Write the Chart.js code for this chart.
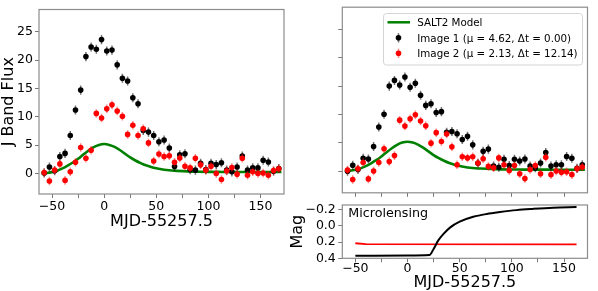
<!DOCTYPE html>
<html><head><meta charset="utf-8">
<script src="https://cdn.jsdelivr.net/npm/chart.js@4.4.1/dist/chart.umd.min.js"></script>
<style>
html,body{margin:0;padding:0;background:#fff;width:598px;height:291px;overflow:hidden;position:relative;}
canvas{position:absolute;}
#cA{left:0;top:0;} #cB{left:285px;top:0;} #cC{left:285px;top:195px;}
</style></head><body>
<canvas id="cA" width="300" height="291"></canvas>
<canvas id="cB" width="313" height="200"></canvas>
<canvas id="cC" width="313" height="96"></canvas>
<script>
// ---------- data ----------
const times = [-57.5,-52.5,-47.5,-42.5,-37.5,-32.5,-27.5,-22.5,-17.5,-12.5,-7.5,-2.5,2.5,7.5,12.5,17.5,22.5,27.5,32.5,37.5,42.5,47.5,52.5,57.5,62.5,67.5,72.5,77.5,82.5,87.5,92.5,97.5,102.5,107.5,112.5,117.5,122.5,127.5,132.5,137.5,142.5,147.5,152.5,157.5,162.5,167.5];
// left panel (observed)
const image1Obs = [0.1,1.15,0.5,3.0,3.55,6.7,11.2,14.7,20.6,22.3,21.9,23.6,21.6,21.75,19.15,16.8,16.3,13.35,12.3,7.6,7.3,6.7,5.6,5.9,4.5,1.25,3.3,3.5,0.7,0.6,1.8,0.7,1.8,1.6,1.9,0.6,0.3,1.15,3.1,0.6,1.0,1.0,2.35,2.05,0.4,0.9];
const image2Obs = [0.2,-1.3,0.6,1.7,-1.2,0.3,2.0,4.6,2.7,4.1,10.6,9.8,11.4,12.1,11.0,10.1,6.9,8.5,6.7,7.9,5.4,2.2,3.45,3.0,3.15,2.0,2.75,1.3,1.0,2.7,1.55,0.6,1.3,0.0,-1.05,0.45,1.05,-0.1,2.7,-0.3,0.3,0.0,0.1,-0.3,0.55,0.85];
// right panel (corrected)
const image1Cor = [0.0,1.05,0.3,2.3,2.15,4.35,7.8,10.05,15.0,16.0,15.2,16.6,14.8,15.5,13.4,11.6,11.9,10.35,10.5,6.85,7.0,6.6,5.6,6.15,4.65,1.4,3.5,3.9,0.9,0.7,2.1,1.0,2.1,1.8,2.15,0.9,0.6,1.45,3.3,0.9,1.15,1.15,2.6,2.3,0.5,1.15];
const image2Cor = [0.2,-1.45,0.45,1.55,-1.35,0.05,1.55,3.95,1.7,2.75,9.0,7.95,9.25,9.95,8.85,8.0,4.95,6.8,5.25,6.55,4.3,1.15,2.55,2.35,2.55,1.45,2.2,0.85,0.6,2.35,1.15,0.15,1.0,-0.45,-1.3,0.3,1.0,-0.45,2.45,-0.6,0.05,-0.2,-0.1,-0.6,0.45,0.75];
const image1Err = 0.8;
const image2Err = 0.75;
// SALT2 model
const modelTimes = [-60,-55,-50,-45,-40,-35,-30,-25,-20,-15,-10,-5,0,5,10,15,20,25,30,35,40,45,50,55,60,65,70,80,90,100,110,120,130,140,150,160,170];
const modelFlux  = [0.05,0.1,0.25,0.5,0.9,1.4,1.95,2.6,3.35,4.05,4.65,5.05,5.2,5.05,4.7,4.15,3.5,2.85,2.3,1.85,1.45,1.15,0.92,0.75,0.62,0.53,0.47,0.38,0.33,0.3,0.29,0.28,0.28,0.27,0.27,0.27,0.27];
// microlensing (mag)
const ml1Times = [-50,0,21,25,29.5,34.5,41,50,63,76,88.5,104.5,120,139.5,162];
const ml1Mag   = [0.37,0.365,0.36,0.285,0.18,0.1,0.02,-0.05,-0.11,-0.145,-0.168,-0.192,-0.207,-0.222,-0.23];
const ml2Times = [-50,-40,162];
const ml2Mag   = [0.215,0.227,0.228];
// ticks
const xTicks = [-50,-25,0,25,50,75,100,125,150];
const xTickLabels = ['\u221250','','0','','50','','100','','150'];
const fluxTicks = [0,5,10,15,20,25];
const fluxTickLabels = ['0','5','10','15','20','25'];
const magTicks = [-0.2,0.0,0.2,0.4];
const magTickLabels = ['\u22120.2','0.0','0.2','0.4'];
const labels = ['SALT2 Model','Image 1 (\u03bc = 4.62, \u0394t = 0.00)','Image 2 (\u03bc = 2.13, \u0394t = 12.14)'];

// ---------- helpers ----------
const FONT = 'DejaVu Sans';
Chart.defaults.font.family = FONT;
Chart.defaults.color = '#000';
const pts = (xs, ys) => xs.map((x,i)=>({x:x, y:ys[i]}));

const errorBars = {
  id:'errorBars',
  beforeDatasetDraw(chart, args){
    const ds = chart.data.datasets[args.index];
    if (ds.errors === undefined) return;
    const xs = chart.scales.x, ys = chart.scales.y, ctx = chart.ctx, a = chart.chartArea;
    ctx.save();
    ctx.beginPath(); ctx.rect(a.left, a.top, a.width, a.height); ctx.clip();
    ctx.beginPath();
    ctx.strokeStyle = ds.errorColor; ctx.lineWidth = 1.5;
    ds.data.forEach(p=>{
      const px = xs.getPixelForValue(p.x);
      ctx.moveTo(px, ys.getPixelForValue(p.y - ds.errors));
      ctx.lineTo(px, ys.getPixelForValue(p.y + ds.errors));
    });
    ctx.stroke(); ctx.restore();
  }
};
const frame = {
  id:'frame',
  afterDraw(chart){
    const {ctx, chartArea:a} = chart;
    ctx.save(); ctx.strokeStyle='#8c8c8c'; ctx.lineWidth=1.2;
    ctx.strokeRect(a.left, a.top, a.width, a.height); ctx.restore();
  }
};
const legendBox = {
  id:'legendBox',
  afterDraw(chart){
    const ctx = chart.ctx, dsets = chart.data.datasets;
    const bx=98.5, by=13.5, bw=199, bh=51.5;
    ctx.save();
    ctx.fillStyle='rgba(255,255,255,0.85)'; ctx.strokeStyle='#d4d4d4'; ctx.lineWidth=1;
    ctx.beginPath(); ctx.roundRect(bx,by,bw,bh,3); ctx.fill(); ctx.stroke();
    const order = [2,1,0];
    const rows = [22.3,37.8,53.3];
    ctx.font = '10.3px "DejaVu Sans"'; ctx.textBaseline='alphabetic'; ctx.fillStyle='#000';
    order.forEach((di,r)=>{
      const d = dsets[di], cy = rows[r];
      if (d.showLine){
        ctx.strokeStyle=d.borderColor; ctx.lineWidth=2.5;
        ctx.beginPath(); ctx.moveTo(102.5,cy); ctx.lineTo(125,cy); ctx.stroke();
      } else {
        ctx.strokeStyle=d.errorColor; ctx.lineWidth=1.5;
        ctx.beginPath(); ctx.moveTo(113.5,cy-4.7); ctx.lineTo(113.5,cy+4.7); ctx.stroke();
        ctx.fillStyle=d.backgroundColor; ctx.beginPath(); ctx.arc(113.5,cy,2.8,0,Math.PI*2); ctx.fill();
      }
      ctx.fillStyle='#000';
      ctx.fillText(d.label, 132.3, cy+4);
    });
    ctx.restore();
  }
};
const mlText = {
  id:'mlText',
  afterDraw(chart){
    const ctx = chart.ctx;
    ctx.save(); ctx.font='12.7px "DejaVu Sans"'; ctx.fillStyle='#000'; ctx.textBaseline='alphabetic';
    ctx.fillText('Microlensing', chart.chartArea.left+6, chart.chartArea.top+11.6); ctx.restore();
  }
};

function fluxDatasets(blk, red){
  return [
    {label:labels[2], data:pts(times, red), backgroundColor:'#ff0000', borderColor:'#ff0000', pointRadius:2.8, pointBorderWidth:0, errors:image2Err, errorColor:'rgba(255,0,0,0.45)', order:1},
    {label:labels[1], data:pts(times, blk), backgroundColor:'#000000', borderColor:'#000000', pointRadius:2.8, pointBorderWidth:0, errors:image1Err, errorColor:'rgba(0,0,0,0.55)', order:2},
    {label:labels[0], data:pts(modelTimes, modelFlux), showLine:true, borderColor:'#008000', backgroundColor:'#008000', borderWidth:2.6, pointRadius:0, cubicInterpolationMode:'monotone', order:3}
  ];
}
const tickGrid = {display:true, drawOnChartArea:false, drawTicks:true, tickLength:4, color:'#777', lineWidth:1};
function xScale(showLabels, h, titlePadBottom, pad){
  return {type:'linear', min:-62.5, max:172.5,
    afterBuildTicks: s => { s.ticks = xTicks.map(v=>({value:v})); },
    ticks:{autoSkip:false, maxRotation:0, padding:pad, font:{size:12.5}, callback:(v,i)=> showLabels ? xTickLabels[i] : ''},
    grid:tickGrid, border:{display:false},
    title:{display:showLabels, text:'MJD-55257.5', font:{size:16, lineHeight:1}, padding:{top:0,bottom:titlePadBottom}},
    afterFit: s => { s.height = h; }
  };
}
const common = {responsive:false, animation:false, events:[], plugins:{legend:{display:false}, tooltip:{enabled:false}}};

// ---------- left panel ----------
new Chart(document.getElementById('cA'), {
  type:'scatter',
  data:{datasets:fluxDatasets(image1Obs, image2Obs)},
  options:Object.assign({}, common, {
    layout:{padding:{left:0, top:7, right:16, bottom:0}},
    scales:{
      x:xScale(true, 97, 61, 1),
      y:{type:'linear', min:-3.6, max:28.9,
        afterBuildTicks: s => { s.ticks = fluxTicks.map(v=>({value:v})); },
        ticks:{autoSkip:false, padding:2, font:{size:12.5}, callback:(v,i)=>fluxTickLabels[i]},
        grid:tickGrid, border:{display:false},
        title:{display:true, text:'J Band Flux', font:{size:16, lineHeight:1}, padding:{top:1,bottom:0}},
        afterFit: s => { s.width = 39; }
      }
    }
  }),
  plugins:[errorBars, frame]
});

// ---------- right top panel ----------
new Chart(document.getElementById('cB'), {
  type:'scatter',
  data:{datasets:fluxDatasets(image1Cor, image2Cor)},
  options:Object.assign({}, common, {
    layout:{padding:{left:0, top:7, right:10.5, bottom:0}},
    scales:{
      x:xScale(false, 5, 0, 0),
      y:{type:'linear', min:-3.8, max:28.9,
        afterBuildTicks: s => { s.ticks = fluxTicks.map(v=>({value:v})); },
        ticks:{autoSkip:false, padding:0, callback:()=>''},
        grid:tickGrid, border:{display:false},
        afterFit: s => { s.width = 57.3; }
      }
    }
  }),
  plugins:[errorBars, frame, legendBox]
});

// ---------- right bottom panel ----------
new Chart(document.getElementById('cC'), {
  type:'scatter',
  data:{datasets:[
    {label:'Image 1', data:pts(ml1Times, ml1Mag), showLine:true, borderColor:'#000', borderWidth:2, pointRadius:0, cubicInterpolationMode:'monotone'},
    {label:'Image 2', data:pts(ml2Times, ml2Mag), showLine:true, borderColor:'#ff0000', borderWidth:1.8, pointRadius:0}
  ]},
  options:Object.assign({}, common, {
    layout:{padding:{left:0, top:7.7, right:10.5, bottom:0}},
    scales:{
      x:xScale(true, 32.7, 0, -1),
      y:{type:'linear', reverse:true, min:-0.255, max:0.4,
        afterBuildTicks: s => { s.ticks = magTicks.map(v=>({value:v})); },
        ticks:{autoSkip:false, padding:2.5, font:{size:12.5}, callback:(v,i)=>magTickLabels[i]},
        grid:tickGrid, border:{display:false},
        title:{display:true, text:'Mag', font:{size:16, lineHeight:1}, padding:{top:5,bottom:0}},
        afterFit: s => { s.width = 57.3; }
      }
    }
  }),
  plugins:[frame, mlText]
});
</script>
</body></html>
